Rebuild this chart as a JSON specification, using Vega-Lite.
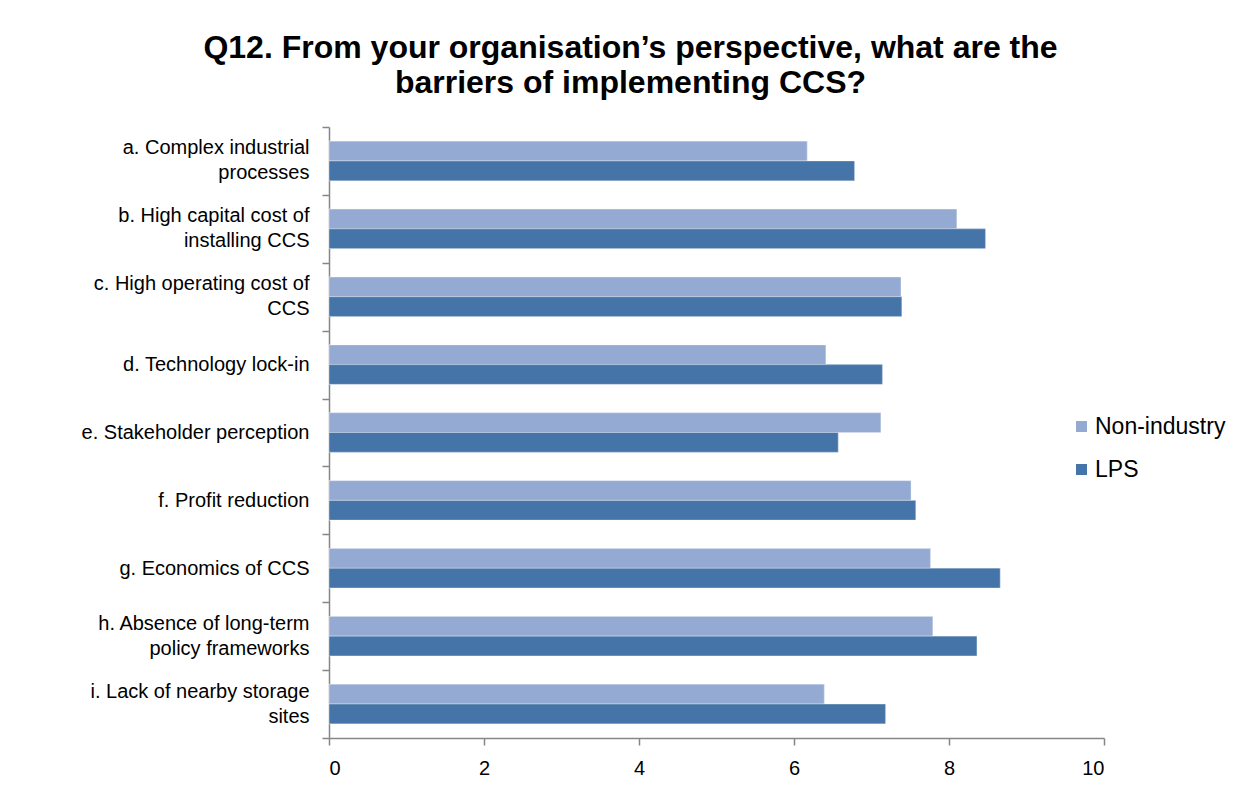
{
  "$schema": "https://vega.github.io/schema/vega-lite/v6.json",
  "autosize": {"type": "none"},
  "padding": {"left": 329, "top": 127, "right": 147, "bottom": 48},
  "width": 775,
  "height": 611,
  "background": "#ffffff",
  "title": {
    "text": ["Q12. From your organisation’s perspective, what are the", "barriers of implementing CCS?"],
    "font": "Liberation Sans",
    "fontSize": 32,
    "fontWeight": "bold",
    "color": "#000000",
    "anchor": "middle",
    "lineHeight": 35,
    "offset": 17,
    "dx": -86
  },
  "data": {
    "values": [
      {"label": "a. Complex industrial processes", "group": "Non-industry", "value": 6.17},
      {"label": "a. Complex industrial processes", "group": "LPS", "value": 6.78},
      {"label": "b. High capital cost of installing CCS", "group": "Non-industry", "value": 8.10},
      {"label": "b. High capital cost of installing CCS", "group": "LPS", "value": 8.47},
      {"label": "c. High operating cost of CCS", "group": "Non-industry", "value": 7.38},
      {"label": "c. High operating cost of CCS", "group": "LPS", "value": 7.39},
      {"label": "d. Technology lock-in", "group": "Non-industry", "value": 6.41},
      {"label": "d. Technology lock-in", "group": "LPS", "value": 7.14},
      {"label": "e. Stakeholder perception", "group": "Non-industry", "value": 7.12},
      {"label": "e. Stakeholder perception", "group": "LPS", "value": 6.57},
      {"label": "f. Profit reduction", "group": "Non-industry", "value": 7.51},
      {"label": "f. Profit reduction", "group": "LPS", "value": 7.57},
      {"label": "g. Economics of CCS", "group": "Non-industry", "value": 7.76},
      {"label": "g. Economics of CCS", "group": "LPS", "value": 8.66},
      {"label": "h. Absence of long-term policy frameworks", "group": "Non-industry", "value": 7.79},
      {"label": "h. Absence of long-term policy frameworks", "group": "LPS", "value": 8.36},
      {"label": "i. Lack of nearby storage sites", "group": "Non-industry", "value": 6.39},
      {"label": "i. Lack of nearby storage sites", "group": "LPS", "value": 7.18}
    ]
  },
  "layer": [
    {
      "mark": {"type": "bar", "stroke": "#ffffff", "strokeOpacity": 0.35, "strokeWidth": 1},
      "encoding": {
        "y": {
          "field": "label",
          "type": "nominal",
          "sort": null,
          "scale": {"paddingInner": 0, "paddingOuter": 0},
          "axis": {
            "title": null,
            "orient": "left",
            "tickBand": "extent",
            "tickSize": 7,
            "labelPadding": 13,
            "labelFont": "Liberation Sans",
            "labelFontSize": 20,
            "labelColor": "#000000",
            "labelLimit": 400,
            "domainColor": "#868686",
            "tickColor": "#868686",
            "domainWidth": 1.5,
            "tickWidth": 1.5,
            "labelExpr": "length(datum.label) > 25 ? '' : datum.label"
          }
        },
        "yOffset": {
          "field": "group",
          "type": "nominal",
          "sort": ["Non-industry", "LPS"],
          "scale": {"paddingInner": 0, "paddingOuter": 0.72}
        },
        "x": {
          "field": "value",
          "type": "quantitative",
          "scale": {"domain": [0, 10], "nice": false},
          "axis": {
            "title": null,
            "values": [0, 2, 4, 6, 8, 10],
            "grid": false,
            "tickSize": 7,
            "labelPadding": 13,
            "labelFont": "Liberation Sans",
            "labelFontSize": 20,
            "labelColor": "#000000",
            "domainColor": "#868686",
            "tickColor": "#868686",
            "domainWidth": 1.5,
            "tickWidth": 1.5
          }
        },
        "color": {
          "field": "group",
          "type": "nominal",
          "scale": {"domain": ["Non-industry", "LPS"], "range": ["#95AAD2", "#4574A8"]},
          "legend": {
            "title": null,
            "orient": "none",
            "legendX": 741,
            "legendY": 288,
            "symbolType": "square",
            "symbolSize": 121,
            "symbolStrokeWidth": 0,
            "labelFont": "Liberation Sans",
            "labelFontSize": 23,
            "labelColor": "#000000",
            "labelOffset": 2,
            "rowPadding": 19
          }
        }
      }
    },
    {
      "mark": {"type": "bar", "stroke": "#ffffff", "strokeOpacity": 0.35, "strokeWidth": 1},
      "encoding": {
        "y": {
          "field": "label",
          "type": "nominal",
          "sort": null,
          "axis": {
            "title": null,
            "orient": "left",
            "domain": false,
            "ticks": false,
            "tickSize": 7,
            "labelPadding": 20,
            "labelFont": "Liberation Sans",
            "labelFontSize": 20,
            "labelColor": "#000000",
            "labelLineHeight": 25,
            "labelLimit": 400,
            "labelOffset": -12.5,
            "labelExpr": "length(datum.label) > 25 ? [substring(datum.label, 0, lastindexof(substring(datum.label, 0, 26), ' ')), substring(datum.label, lastindexof(substring(datum.label, 0, 26), ' ') + 1)] : ''"
          }
        },
        "yOffset": {
          "field": "group",
          "type": "nominal",
          "sort": ["Non-industry", "LPS"]
        },
        "x": {
          "field": "value",
          "type": "quantitative",
          "axis": {
            "title": null,
            "values": [0, 2, 4, 6, 8, 10],
            "grid": false,
            "tickSize": 7,
            "labelPadding": 13,
            "labelFont": "Liberation Sans",
            "labelFontSize": 20,
            "labelColor": "#000000",
            "domainColor": "#868686",
            "tickColor": "#868686",
            "domainWidth": 1.5,
            "tickWidth": 1.5
          }
        },
        "color": {
          "field": "group",
          "type": "nominal"
        }
      }
    }
  ],
  "resolve": {"axis": {"y": "independent"}},
  "config": {
    "view": {"stroke": null}
  }
}
